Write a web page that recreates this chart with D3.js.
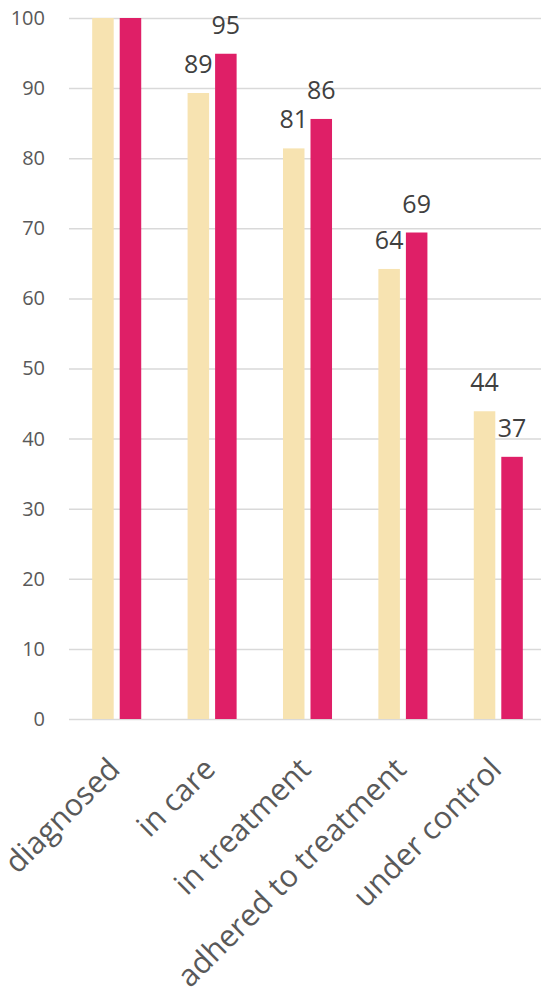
<!DOCTYPE html>
<html>
<head>
<meta charset="utf-8">
<script src="https://cdn.jsdelivr.net/npm/d3@7"></script>
<style>
  html, body { margin: 0; padding: 0; background: #ffffff; }
  svg { display: block; font-family: "Open Sans", "Noto Sans", sans-serif; }
</style>
</head>
<body>
<svg id="chart" width="541" height="1001"></svg>
<script>
// Care cascade: share of patients at each stage, two cohorts
const categories = ["diagnosed", "in care", "in treatment", "adhered to treatment", "under control"];
const seriesNames = ["cohort A", "cohort B"];
const seriesA = [100, 89.3, 81.4, 64.2, 43.9];
const seriesB = [100, 94.9, 85.6, 69.4, 37.4];
const yTicks = [0, 10, 20, 30, 40, 50, 60, 70, 80, 90, 100];
const colors = ["#F7E3B1", "#DF1F67"];

const W = 541, H = 1001;
const svg = d3.select("#chart");

const x0 = d3.scaleBand()
  .domain(categories)
  .range([69, 546])
  .paddingInner(0.486)
  .paddingOuter(0.243);

const x1 = d3.scaleBand()
  .domain(seriesNames)
  .range([0, x0.bandwidth()])
  .paddingInner(0.218);

const y = d3.scaleLinear().domain([0, 100]).range([719, 18]);

// gridlines
const grid = d3.axisLeft(y).tickValues(yTicks).tickSize(-(W - 69)).tickFormat("");
svg.append("g")
  .attr("transform", "translate(69,0)")
  .call(grid)
  .call(g => g.select(".domain").remove())
  .call(g => g.selectAll("line").attr("stroke", "#D9D9D9").attr("stroke-width", 1.5));

// y tick labels
const yAxis = d3.axisLeft(y).tickValues(yTicks).tickSize(0).tickPadding(0);
svg.append("g")
  .attr("transform", "translate(45,0)")
  .call(yAxis)
  .call(g => g.select(".domain").remove())
  .call(g => g.selectAll("text")
    .attr("fill", "#595959")
    .style("font-size", "20px")
    .style("font-family", "'Open Sans', sans-serif"));

// bars
const rows = categories.map((c, i) => ({ cat: c, vals: [seriesA[i], seriesB[i]] }));
const groups = svg.append("g").selectAll("g")
  .data(rows)
  .join("g")
  .attr("transform", d => `translate(${x0(d.cat)},0)`);

groups.selectAll("rect")
  .data(d => d.vals.map((v, k) => ({ key: seriesNames[k], v, k })))
  .join("rect")
  .attr("x", d => x1(d.key))
  .attr("width", x1.bandwidth())
  .attr("y", d => y(d.v))
  .attr("height", d => y(0) - y(d.v))
  .attr("fill", d => colors[d.k]);

// value labels (those for full-height bars would sit above the plot area)
groups.selectAll("text.val")
  .data(d => d.vals
    .map((v, k) => ({ key: seriesNames[k], v, k }))
    .filter(e => y(e.v) - 20 > 20))
  .join("text")
  .attr("class", "val")
  .attr("x", d => x1(d.key) + x1.bandwidth() / 2)
  .attr("y", d => y(d.v) - 20)
  .attr("text-anchor", "middle")
  .attr("fill", "#404040")
  .style("font-size", "25px")
  .text(d => d3.format(".0f")(d.v));

// category labels, rotated
const xAxis = d3.axisBottom(x0).tickSize(0).tickPadding(0);
svg.append("g")
  .attr("transform", "translate(0,719)")
  .call(xAxis)
  .call(g => g.select(".domain").remove())
  .call(g => g.selectAll("text")
    .attr("fill", "#595959")
    .style("font-size", "30.5px")
    .style("font-family", "'Open Sans', sans-serif")
    .attr("text-anchor", "end")
    .attr("dy", "0")
    .attr("y", 0)
    .attr("transform", "translate(5,52) rotate(-45)"));
</script>
</body>
</html>
